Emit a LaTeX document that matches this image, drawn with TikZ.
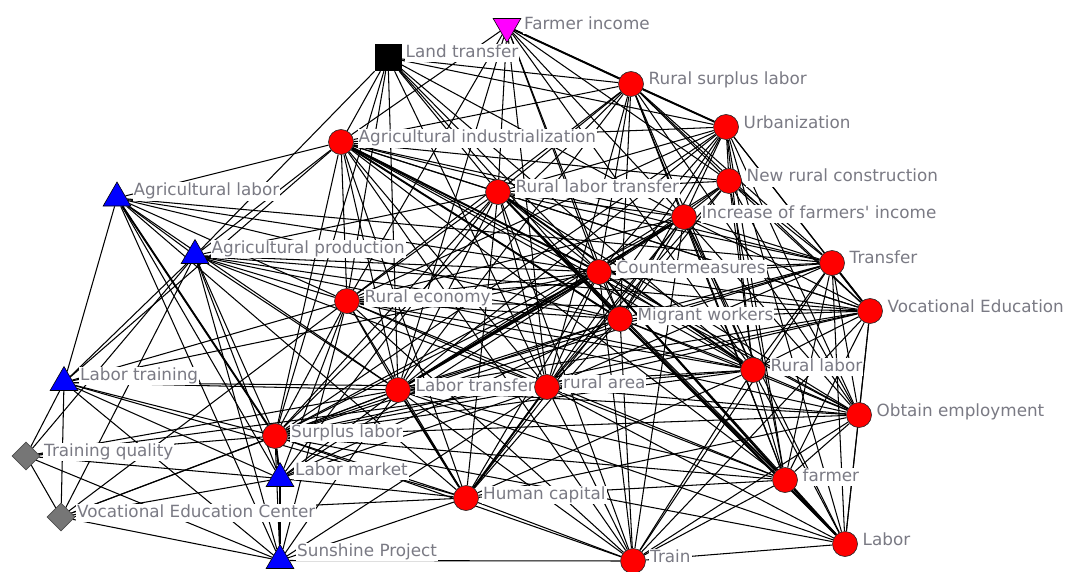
\documentclass[tikz,border=0pt]{standalone}
\usepackage{fontspec}
\setmainfont{DejaVu Sans}
\usetikzlibrary{shapes.geometric}
\pgfdeclarelayer{links}
\pgfdeclarelayer{tags}
\pgfsetlayers{links,tags,main}
\definecolor{labgray}{RGB}{122,122,132}
\definecolor{diagray}{RGB}{118,118,118}
\definecolor{nodered}{RGB}{255,0,0}
\definecolor{nodeblue}{RGB}{0,0,255}
\definecolor{nodemagenta}{RGB}{255,0,255}
\tikzset{
  concept/.style={circle, fill=nodered, draw=black!85, line width=0.6pt, minimum size=25pt, inner sep=0pt},
  actor/.style={regular polygon, regular polygon sides=3, fill=nodeblue, draw=black, line width=0.6pt, minimum size=32pt, inner sep=0pt},
  income/.style={regular polygon, regular polygon sides=3, shape border rotate=180, fill=nodemagenta, draw=black, line width=0.6pt, minimum size=32pt, inner sep=0pt},
  policy/.style={rectangle, fill=black, minimum size=27pt, inner sep=0pt},
  quality/.style={diamond, aspect=1, fill=diagray, draw=black!70, line width=0.6pt, minimum size=28pt, inner sep=0pt},
  tag/.style={text=labgray, fill=white, inner sep=1pt, anchor=base west, text height=12.5pt, text depth=3.6pt, font=\fontsize{16.8}{18}\selectfont},
  link/.style={line width=1.05pt, black},
  heavy/.style={line width=1.9pt, black}
}
\begin{document}
\begin{tikzpicture}[x=1pt,y=-1pt]
\useasboundingbox (0,0) rectangle (1067,572);

% ---- nodes ----
\node[income]  (fi)  at (507,26.5) {};
\node[policy]  (lt)  at (388,57.5) {};
\node[concept] (rsl) at (631,84) {};
\node[concept] (urb) at (726,127) {};
\node[concept] (nrc) at (729,181) {};
\node[concept] (ai)  at (341,142) {};
\node[concept] (rlt) at (498,192) {};
\node[concept] (ifi) at (684,217) {};
\node[actor]   (al)  at (117,198) {};
\node[actor]   (ap)  at (195,255.5) {};
\node[concept] (cm)  at (599,272) {};
\node[concept] (tr)  at (832,263) {};
\node[concept] (re)  at (347,301) {};
\node[concept] (mw)  at (620,319) {};
\node[concept] (ve)  at (870,311) {};
\node[actor]   (ltr) at (64,382.5) {};
\node[concept] (rl)  at (753,370) {};
\node[concept] (ltf) at (398,390) {};
\node[concept] (ra)  at (547,387) {};
\node[concept] (oe)  at (859,415) {};
\node[concept] (sl)  at (275,436) {};
\node[quality] (tq)  at (26,456) {};
\node[actor]   (lm)  at (280,478.5) {};
\node[concept] (hc)  at (466,498) {};
\node[concept] (fa)  at (785,480) {};
\node[quality] (vec) at (61,517) {};
\node[actor]   (sp)  at (280,560.5) {};
\node[concept] (lab) at (845,544) {};
\node[concept] (trn) at (633,561) {};

% ---- labels ----
\begin{pgfonlayer}{tags}
\node[tag] (fi-t)  at ([shift={(16pt,-3pt)}]fi.center)  {Farmer income};
\node[tag] (lt-t)  at ([shift={(16.5pt,0pt)}]lt.center) {Land transfer};
\node[tag] (rsl-t) at ([shift={(16.5pt,-0.5pt)}]rsl.center) {Rural surplus labor};
\node[tag] (urb-t) at ([shift={(16.5pt,-2pt)}]urb.center) {Urbanization};
\node[tag] (nrc-t) at ([shift={(16.5pt,-1pt)}]nrc.center) {New rural construction};
\node[tag] (ai-t)  at ([shift={(16.5pt,-1pt)}]ai.center)  {Agricultural industrialization};
\node[tag] (rlt-t) at ([shift={(16.5pt,-1pt)}]rlt.center) {Rural labor transfer};
\node[tag] (ifi-t) at ([shift={(16.5pt,-1pt)}]ifi.center) {Increase of farmers\textquotesingle{} income};
\node[tag] (al-t)  at ([shift={(15.5pt,2pt)}]al.center)   {Agricultural labor};
\node[tag] (ap-t)  at ([shift={(15.5pt,2pt)}]ap.center)   {Agricultural production};
\node[tag] (cm-t)  at ([shift={(16.5pt,-1pt)}]cm.center)  {Countermeasures};
\node[tag] (tr-t)  at ([shift={(16.5pt,0pt)}]tr.center)   {Transfer};
\node[tag] (re-t)  at ([shift={(16.5pt,-1pt)}]re.center)  {Rural economy};
\node[tag] (mw-t)  at ([shift={(16.5pt,-1pt)}]mw.center)  {Migrant workers};
\node[tag] (ve-t)  at ([shift={(16.5pt,-1.5pt)}]ve.center) {Vocational Education};
\node[tag] (ltr-t) at ([shift={(15pt,2pt)}]ltr.center)   {Labor training};
\node[tag] (rl-t)  at ([shift={(16.5pt,-1pt)}]rl.center)  {Rural labor};
\node[tag] (ltf-t) at ([shift={(16.5pt,-1pt)}]ltf.center) {Labor transfer};
\node[tag] (ra-t)  at ([shift={(15pt,-1pt)}]ra.center)   {rural area};
\node[tag] (oe-t)  at ([shift={(16.5pt,-1pt)}]oe.center)  {Obtain employment};
\node[tag] (sl-t)  at ([shift={(15pt,-1pt)}]sl.center)   {Surplus labor};
\node[tag] (tq-t)  at ([shift={(17pt,0pt)}]tq.center)    {Training quality};
\node[tag] (lm-t)  at ([shift={(14pt,3pt)}]lm.center)    {Labor market};
\node[tag] (hc-t)  at ([shift={(16pt,-1pt)}]hc.center)   {Human capital};
\node[tag] (fa-t)  at ([shift={(16.5pt,-1pt)}]fa.center)  {farmer};
\node[tag] (vec-t) at ([shift={(15pt,0pt)}]vec.center)   {Vocational Education Center};
\node[tag] (sp-t)  at ([shift={(16pt,4pt)}]sp.center)    {Sunshine Project};
\node[tag] (lab-t) at ([shift={(16.5pt,-1pt)}]lab.center) {Labor};
\node[tag] (trn-t) at ([shift={(16pt,-1pt)}]trn.center)  {Train};
\end{pgfonlayer}

% ---- links ----
\begin{pgfonlayer}{links}
\foreach \a/\b in {
 fi/rsl, fi/urb, fi/ai, fi/rlt, fi/cm, fi/mw, fi/ifi, fi/nrc, fi/re, fi/ra, fi/ltf, fi/rl,
 lt/ai, lt/ap, lt/re, lt/ltf, lt/sl, lt/rlt, lt/cm, lt/mw, lt/ifi, lt/urb, lt/ra, lt/rsl, lt/rl,
 al/ai, al/ap, al/ltr, al/sl, al/lm, al/sp, al/ltf, al/re, al/cm, al/tr, al/mw, al/hc,
 ap/ai, ap/rlt, ap/re, ap/sl, ap/lm, ap/sp, ap/ltf, ap/ra, ap/mw, ap/cm, ap/ltr, ap/rl, ap/ve,
 ltr/tq, ltr/vec, ltr/sl, ltr/lm, ltr/sp, ltr/ltf, ltr/ra, ltr/re, ltr/ai, ltr/hc, ltr/cm,
 tq/vec, tq/lm, tq/sl, tq/sp, tq/ap, tq/ltf, tq/ra,
 vec/sp, vec/lm, vec/sl, vec/hc, vec/ap, vec/ltf, vec/re,
 sp/lm, sp/sl, sp/ltf, sp/ra, sp/trn, sp/hc, sp/re,
 lm/sl, lm/ltf, lm/hc, lm/ra, lm/cm, lm/mw, lm/rlt, lm/re,
 rsl/urb, rsl/nrc, rsl/ai, rsl/rlt, rsl/ifi, rsl/cm, rsl/tr, rsl/mw, rsl/ve, rsl/rl, rsl/ltf, rsl/ra, rsl/oe, rsl/fa, rsl/re, rsl/sl,
 urb/nrc, urb/ai, urb/rlt, urb/ifi, urb/cm, urb/tr, urb/mw, urb/ve, urb/rl, urb/oe, urb/fa, urb/ra, urb/ltf, urb/re, urb/sl, urb/lab,
 nrc/ai, nrc/rlt, nrc/ifi, nrc/cm, nrc/tr, nrc/mw, nrc/ve, nrc/rl, nrc/oe, nrc/ltf, nrc/ra, nrc/fa,
 ai/rlt, ai/ifi, ai/cm, ai/tr, ai/re, ai/mw, ai/ve, ai/rl, ai/ltf, ai/ra, ai/sl, ai/hc, ai/oe, ai/fa, ai/trn,
 rlt/ifi, rlt/cm, rlt/tr, rlt/re, rlt/mw, rlt/ve, rlt/rl, rlt/ltf, rlt/ra, rlt/oe, rlt/sl, rlt/hc, rlt/fa, rlt/lab, rlt/trn,
 ifi/cm, ifi/tr, ifi/re, ifi/mw, ifi/ve, ifi/rl, ifi/ltf, ifi/ra, ifi/oe, ifi/sl, ifi/hc, ifi/fa, ifi/lab, ifi/trn,
 cm/tr, cm/re, cm/mw, cm/ve, cm/rl, cm/ltf, cm/ra, cm/oe, cm/sl, cm/hc, cm/fa, cm/lab, cm/trn,
 tr/re, tr/mw, tr/ve, tr/rl, tr/ltf, tr/ra, tr/oe, tr/fa, tr/lab, tr/trn, tr/sl,
 re/mw, re/ve, re/rl, re/ltf, re/ra, re/oe, re/sl, re/hc, re/fa, re/trn,
 mw/ve, mw/rl, mw/ltf, mw/ra, mw/oe, mw/sl, mw/hc, mw/fa, mw/lab, mw/trn,
 ve/rl, ve/ltf, ve/ra, ve/oe, ve/fa, ve/lab, ve/trn, ve/sl,
 rl/ltf, rl/ra, rl/oe, rl/sl, rl/hc, rl/fa, rl/lab, rl/trn,
 ltf/ra, ltf/oe, ltf/sl, ltf/hc, ltf/fa, ltf/lab, ltf/trn,
 ra/oe, ra/sl, ra/hc, ra/fa, ra/lab, ra/trn,
 oe/sl, oe/fa, oe/lab, oe/trn, oe/hc,
 sl/hc, sl/fa, sl/lab, sl/trn,
 hc/trn, hc/fa, fa/lab, fa/trn, lab/trn}
 \draw[link] (\a) -- (\b);
% stronger ties
\foreach \a/\b in {ai/cm, ai/mw, rlt/mw, rlt/rl, mw/lab, cm/fa, ltf/cm, lm/sl,
 al/sl, ltf/ifi, urb/rsl, fi/rsl, ltf/hc, ra/hc, ve/tr, fa/lab}
 \draw[heavy] (\a) -- (\b);
\end{pgfonlayer}
\end{tikzpicture}
\end{document}
